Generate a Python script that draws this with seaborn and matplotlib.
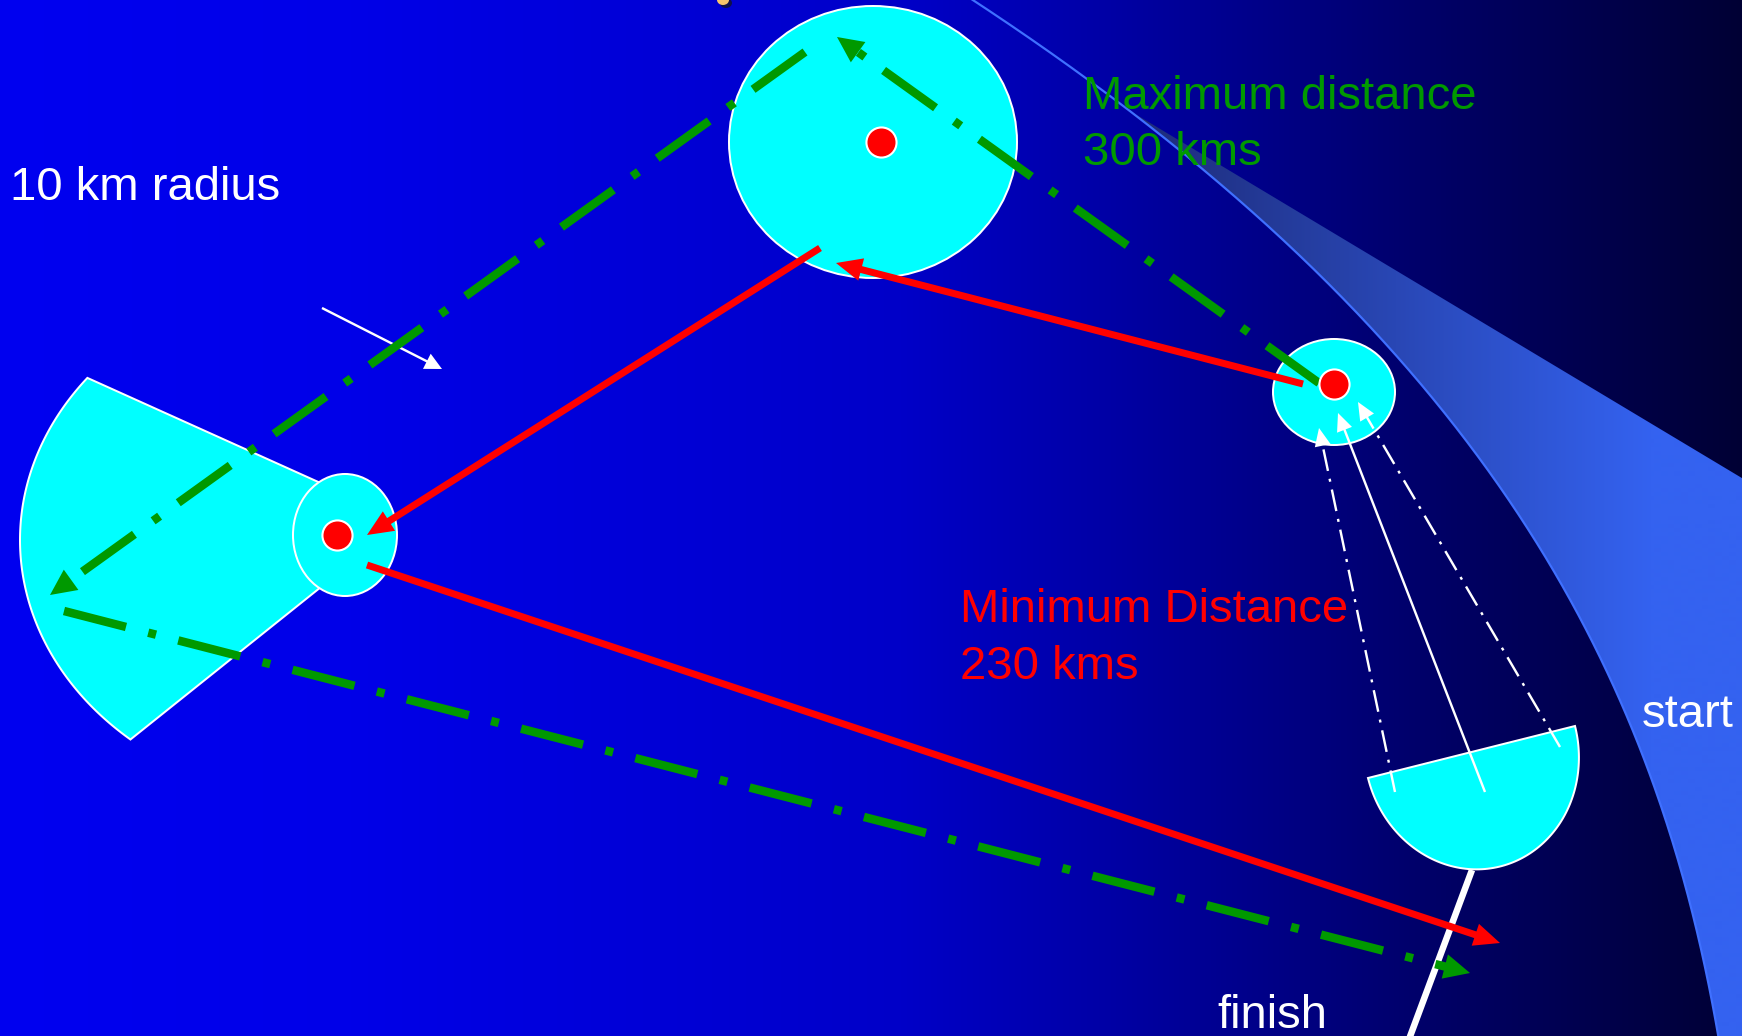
import numpy as np
import matplotlib
matplotlib.use("Agg")
import matplotlib.pyplot as plt
from matplotlib.patches import Ellipse, Polygon
import seaborn as sns

W, H = 1742, 1036
PX = 0.72  # points per pixel at dpi 100

# turnpoint cylinders: centre, width, height (pixels)
CYL_X = [873, 345, 1334]
CYL_Y = [142, 535, 392]
CYL_W = [288, 104, 122]
CYL_H = [272, 122, 106]

# turnpoint markers
DOT_X = [881, 337, 1334]
DOT_Y = [142, 535, 384]

# 90 degree sector behind the second turnpoint
SECTOR_CENTRE = (337, 540)
SECTOR_RADII = (317, 263)
SECTOR_TOP = (86, 377)
SECTOR_BOTTOM = (132, 738)
SECTOR_INNER = [(326, 583), (345, 535), (325, 485)]

# finish half-disc: chord ends and depth
FINISH_CHORD = [(1368, 778), (1575, 726)]
FINISH_DEPTH = 118

# maximum distance route (green)
GREEN_START = [(1319, 383), (805, 52), (64, 611)]
GREEN_END = [(837, 37), (50, 595), (1470, 973)]

# minimum distance route (red)
RED_START = [(1303, 384), (820, 248), (367, 565)]
RED_END = [(836, 263), (367, 535), (1500, 943)]

# white arrows into first turnpoint
WHITE_SOLID = [(1485, 792), (1338, 413)]
WHITE_DASHED_START = [(1395, 792), (1560, 747)]
WHITE_DASHED_END = [(1319, 428), (1358, 402)]
RADIUS_ARROW = [(322, 308), (442, 369)]
FINISH_LINE = [(1472, 870), (1405, 1050)]

# start line band: points read along its left edge, and its top edge
EDGE_X = [963, 1083, 1137, 1245, 1350, 1470, 1509, 1546, 1571, 1622, 1667, 1694, 1715]
EDGE_Y = [0, 72, 110, 200, 317, 447, 500, 562, 603, 705, 808, 910, 1036]
BAND_TOP_Y = 110
BAND_TOP_SLOPE = 0.6

# background gradient stops (x, blue level)
BG_X = [0, 350, 900, 1110, 1450, 1742]
BG_B = [240, 232, 200, 165, 100, 52]

sns.set_theme(style="white")
plt.rcParams["font.family"] = ["Liberation Sans", "DejaVu Sans"]
plt.rcParams["lines.scale_dashes"] = False


def draw_arrow(ax, start, end, color, width, head_len, head_w, dashes=None, z=5):
    p0 = np.asarray(start, float)
    p1 = np.asarray(end, float)
    u = (p1 - p0) / np.hypot(*(p1 - p0))
    n = np.array([-u[1], u[0]])
    base = p1 - u * head_len
    tail = base + u * 2
    ls = "-" if dashes is None else (0, tuple(d * PX for d in dashes))
    ax.plot([p0[0], tail[0]], [p0[1], tail[1]], color=color, lw=width * PX,
            linestyle=ls, solid_capstyle="butt", dash_capstyle="butt", zorder=z)
    if head_len:
        ax.add_patch(Polygon([p1, base + n * head_w / 2, base - n * head_w / 2],
                             closed=True, facecolor=color, edgecolor="none", zorder=z))


fig = plt.figure(figsize=(W / 100, H / 100), dpi=100)
ax = fig.add_axes([0, 0, 1, 1])

# background
xs = np.arange(W)
blue = np.interp(xs, BG_X, BG_B) / 255
bg = np.zeros((1, W, 3))
bg[0, :, 2] = blue
ax.imshow(bg, extent=(0, W, H, 0), aspect="auto", interpolation="bilinear", zorder=0)

# start band: smooth edge fitted to the read points
coef = np.polyfit(EDGE_Y, EDGE_X, 3)
ys = np.linspace(-15, H + 25, 300)
edge = np.column_stack([np.polyval(coef, ys), ys])
yb = np.linspace(BAND_TOP_Y, H + 25, 300)
band_edge = np.column_stack([np.polyval(coef, yb), yb])
x_top = band_edge[0, 0]
band_pts = np.vstack([band_edge, [(W + 20, H + 25),
                                  (W + 20, BAND_TOP_Y + BAND_TOP_SLOPE * (W + 20 - x_top))]])
band = Polygon(band_pts, closed=True, facecolor="none", edgecolor="none", zorder=1)
ax.add_patch(band)
c0 = np.array([0x1E, 0x2C, 0x7A]) / 255
c1 = np.array([0x34, 0x62, 0xF0]) / 255
f = np.clip((xs - 1140) / (1650 - 1140), 0, 1)
grad = (c0[None, :] * (1 - f)[:, None] + c1[None, :] * f[:, None])[None, :, :]
gim = ax.imshow(grad, extent=(0, W, H, 0), aspect="auto", interpolation="bilinear", zorder=1)
gim.set_clip_path(band)
ax.plot(edge[:, 0], edge[:, 1], color="#3F70FF", lw=2.2 * PX, zorder=2)

# observation sector
cx, cy = SECTOR_CENTRE
rx, ry = SECTOR_RADII
t0 = np.arctan2((SECTOR_TOP[1] - cy) / ry, (SECTOR_TOP[0] - cx) / rx) % (2 * np.pi)
t1 = np.arctan2((SECTOR_BOTTOM[1] - cy) / ry, (SECTOR_BOTTOM[0] - cx) / rx) % (2 * np.pi)
tt = np.linspace(t0, t1, 120)
arc = np.column_stack([cx + rx * np.cos(tt), cy + ry * np.sin(tt)])
sector = np.vstack([arc, SECTOR_INNER])
ax.add_patch(Polygon(sector, closed=True, facecolor="#00FFFF", edgecolor="white",
                     lw=2 * PX, zorder=3))

# cylinders
for x, y, w, h in zip(CYL_X, CYL_Y, CYL_W, CYL_H):
    ax.add_patch(Ellipse((x, y), w, h, facecolor="#00FFFF", edgecolor="white",
                         lw=2 * PX, zorder=3))

# finish half-disc
a0 = np.asarray(FINISH_CHORD[0], float)
a1 = np.asarray(FINISH_CHORD[1], float)
mid = (a0 + a1) / 2
half = np.hypot(*(a1 - a0)) / 2
u = (a1 - a0) / (2 * half)
v = np.array([-u[1], u[0]])
if v[1] < 0:
    v = -v
tt = np.linspace(0, np.pi, 120)
disc = mid + np.outer(half * np.cos(tt), u) + np.outer(FINISH_DEPTH * np.sin(tt), v)
ax.add_patch(Polygon(disc, closed=True, facecolor="#00FFFF", edgecolor="white",
                     lw=2 * PX, zorder=3))

# small orange mark at top edge
ax.add_patch(Ellipse((726, 3), 12, 10, facecolor="#10104A", edgecolor="none", zorder=3))
ax.add_patch(Ellipse((723, 0), 12, 10, facecolor="#F7C46C", edgecolor="none", zorder=3))

# white arrows
draw_arrow(ax, WHITE_SOLID[0], WHITE_SOLID[1], "white", 2.4, 18, 16, z=4)
for s, e in zip(WHITE_DASHED_START, WHITE_DASHED_END):
    draw_arrow(ax, s, e, "white", 2.4, 18, 16, dashes=[22, 8, 3, 8], z=4)
draw_arrow(ax, RADIUS_ARROW[0], RADIUS_ARROW[1], "white", 2.4, 17, 17, z=4)
draw_arrow(ax, FINISH_LINE[0], FINISH_LINE[1], "white", 6.5, 0, 0, z=4)

# green maximum route
for s, e in zip(GREEN_START, GREEN_END):
    draw_arrow(ax, s, e, "#009900", 8.5, 26, 25, dashes=[64, 23, 8, 23], z=5)

# red minimum route
for s, e in zip(RED_START, RED_END):
    draw_arrow(ax, s, e, "#FF0000", 7, 26, 23, z=5)

sns.scatterplot(x=DOT_X, y=DOT_Y, s=470, color="#FF0000", edgecolor="white",
                linewidth=1.5, zorder=6, ax=ax)

# labels
fs = 34
ax.text(10, 200, "10 km radius", color="white", fontsize=fs, va="baseline", zorder=7)
ax.text(1083, 109, "Maximum distance", color="#009900", fontsize=fs, va="baseline", zorder=7)
ax.text(1083, 165, "300 kms", color="#009900", fontsize=fs, va="baseline", zorder=7)
ax.text(960, 622, "Minimum Distance", color="#FF0000", fontsize=fs, va="baseline", zorder=7)
ax.text(960, 679, "230 kms", color="#FF0000", fontsize=fs, va="baseline", zorder=7)
ax.text(1642, 727, "start", color="white", fontsize=fs, va="baseline", zorder=7)
ax.text(1217, 1028, "finish", color="white", fontsize=fs, va="baseline", zorder=7)

ax.set_xlim(0, W)
ax.set_ylim(H, 0)
ax.axis("off")
fig.savefig("out.png", dpi=100)
plt.close(fig)
